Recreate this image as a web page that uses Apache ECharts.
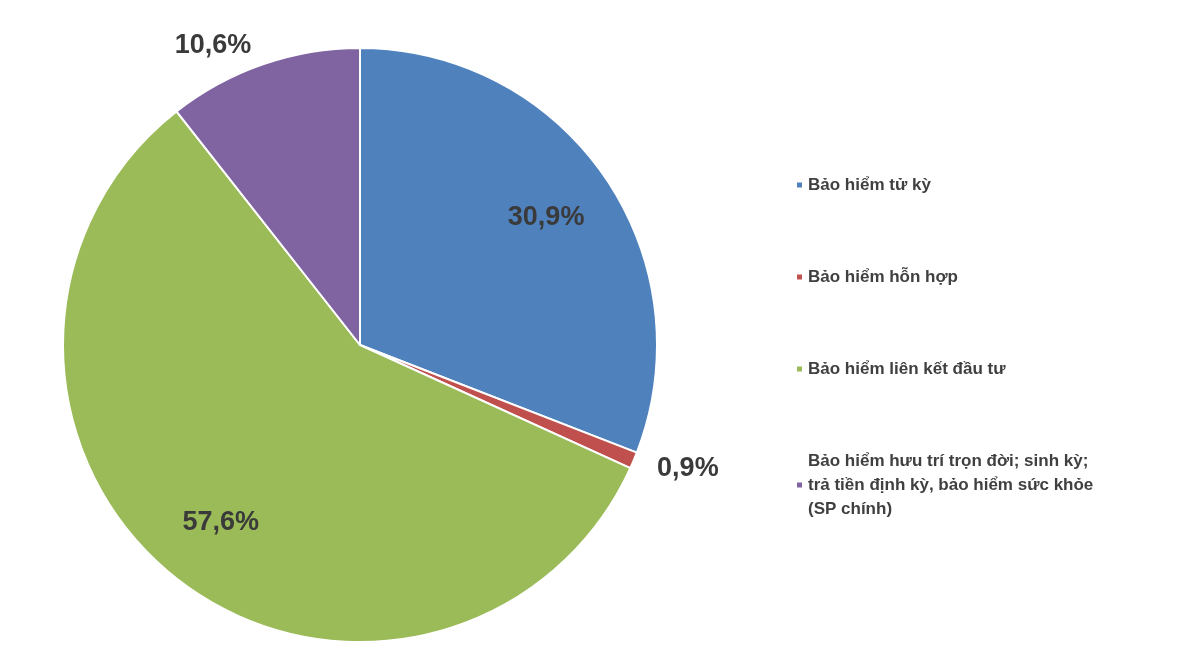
<!DOCTYPE html>
<html>
<head>
<meta charset="utf-8">
<script src="https://cdn.jsdelivr.net/npm/echarts@6/dist/echarts.min.js"></script>
<style>html,body{margin:0;background:#fff}#chart{width:1200px;height:659px}</style>
</head>
<body>
<div id="chart"></div>
<script>
var categories = ['Bảo hiểm tử kỳ', 'Bảo hiểm hỗn hợp', 'Bảo hiểm liên kết đầu tư',
  'Bảo hiểm hưu trí trọn đời; sinh kỳ;\ntrả tiền định kỳ, bảo hiểm sức khỏe\n(SP chính)'];
var values = [30.9, 0.9, 57.6, 10.6];
var colors = ['#4f81bd', '#c0504d', '#9bbb59', '#8064a2'];
var insideLabel = [true, false, true, false];

var font = '"Liberation Sans", Arial, sans-serif';
var center = [360, 345];
var fmt = function (p) { return p.value.toFixed(1).replace('.', ',') + '%'; };

var mainData = [], innerData = [], outerData = [];
for (var i = 0; i < categories.length; i++) {
  mainData.push({ name: categories[i], value: values[i], itemStyle: { color: colors[i] } });
  innerData.push({ name: categories[i], value: values[i],
    label: { show: insideLabel[i] } });
  outerData.push({ name: categories[i], value: values[i],
    label: { show: !insideLabel[i] } });
}
var labelStyle = { fontFamily: font, fontSize: 27, fontWeight: 'bold', color: '#3a3a3a', formatter: fmt };

var chart = echarts.init(document.getElementById('chart'));
chart.setOption({
  animation: false,
  legend: {
    orient: 'vertical', left: 790, top: 168,
    icon: 'rect', itemWidth: 7, itemHeight: 7, itemGap: 68,
    textStyle: { fontFamily: font, fontSize: 17, fontWeight: 'bold', color: '#404040', lineHeight: 24 },
    data: categories
  },
  series: [{
    type: 'pie', center: center, radius: 297, startAngle: 90, clockwise: true,
    itemStyle: { borderColor: '#fff', borderWidth: 2 },
    label: { show: false }, data: mainData
  }, {
    type: 'pie', center: center, radius: [148, 297], startAngle: 90, silent: true,
    itemStyle: { color: 'transparent' },
    label: Object.assign({ position: 'inside' }, labelStyle),
    labelLine: { show: false }, data: innerData
  }, {
    type: 'pie', center: center, radius: 297, startAngle: 90, silent: true,
    itemStyle: { color: 'transparent' },
    label: Object.assign({ position: 'outside' }, labelStyle),
    labelLine: { show: false, length: 20, length2: 0 }, data: outerData
  }]
});
</script>
</body>
</html>
